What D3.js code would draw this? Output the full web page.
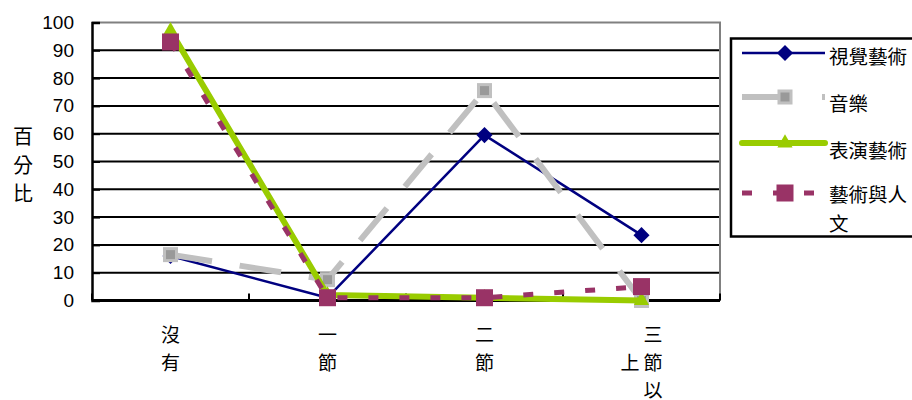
<!DOCTYPE html>
<html>
<head>
<meta charset="utf-8">
<script src="https://cdn.jsdelivr.net/npm/d3@7"></script>
<style>
  body { margin: 0; background: #fff; }
  svg { display: block; }
</style>
</head>
<body>
<svg id="chart" width="912" height="400"></svg>
<script>
// categories (x axis) and series values
const categories = ["沒有", "一節", "二節", "三節以上"];
const visualArts = [16, 1, 59.5, 23.5];
const music = [16.5, 7.5, 75.5, 0];
const performingArts = [97, 2, 1, 0];
const artsHumanities = [93, 1, 1, 5];
const yTicks = [0, 10, 20, 30, 40, 50, 60, 70, 80, 90, 100];
const seriesNames = ["視覺藝術", "音樂", "表演藝術", "藝術與人文"];

const svg = d3.select("#chart");
const CJK = "'Noto Sans CJK TC', 'Noto Sans CJK SC', sans-serif";

const plot = { left: 92, right: 720, top: 22.5, bottom: 300.5 };

let xScale = d3
  .scaleBand()
  .domain(categories)
  .range([plot.left, plot.right]);
let xc = (c) => xScale(c) + xScale.bandwidth() / 2;

let yScale = d3.scaleLinear().domain([0, 100]).range([plot.bottom, plot.top]);

// grid lines
svg
  .append("g")
  .selectAll("line")
  .data(yTicks.filter((t) => t > 0 && t < 100))
  .enter()
  .append("line")
  .attr("x1", plot.left)
  .attr("x2", plot.right)
  .attr("y1", (d) => yScale(d))
  .attr("y2", (d) => yScale(d))
  .attr("stroke", "#000")
  .attr("stroke-width", 2);

// top / right frame (grey)
svg
  .append("path")
  .attr("d", `M${plot.left},${yScale(100)}H${plot.right}V${plot.bottom}`)
  .attr("fill", "none")
  .attr("stroke", "#808080")
  .attr("stroke-width", 2);

// y axis
let yAxis = d3.axisLeft(yScale).tickValues(yTicks).tickSize(-8).tickPadding(18);
let yG = svg
  .append("g")
  .attr("transform", "translate(" + plot.left + ",0)")
  .call(yAxis);
yG.select(".domain").attr("stroke", "#000").attr("stroke-width", 2.5);
yG.selectAll(".tick line").attr("stroke", "#000").attr("stroke-width", 2);
yG.selectAll(".tick text")
  .attr("font-family", "'Liberation Sans', Arial, sans-serif")
  .attr("font-size", 19)
  .attr("fill", "#000");

// x axis: ticks at category boundaries, pointing inward
let boundaries = categories.map((c) => xScale(c)).concat([plot.right]);
svg
  .append("line")
  .attr("x1", plot.left)
  .attr("x2", plot.right)
  .attr("y1", plot.bottom)
  .attr("y2", plot.bottom)
  .attr("stroke", "#000")
  .attr("stroke-width", 3);
svg
  .append("g")
  .selectAll("line")
  .data(boundaries)
  .enter()
  .append("line")
  .attr("x1", (d) => d)
  .attr("x2", (d) => d)
  .attr("y1", plot.bottom)
  .attr("y2", plot.bottom - 7)
  .attr("stroke", "#000")
  .attr("stroke-width", 2);

// vertical category labels (max 3 chars per column, columns right to left)
const perCol = 3,
  colGap = 23,
  lineH = 27.5,
  labelTop = 333;
categories.forEach(function (c) {
  let chars = Array.from(c);
  let cols = [];
  for (let i = 0; i < chars.length; i += perCol) cols.push(chars.slice(i, i + perCol));
  let maxRows = d3.max(cols, (k) => k.length);
  let t = svg
    .append("text")
    .attr("font-family", CJK)
    .attr("font-size", 19)
    .attr("fill", "#000")
    .attr("text-anchor", "middle")
    .attr("dominant-baseline", "central");
  cols.forEach(function (col, ci) {
    let x = xc(c) + ((cols.length - 1) / 2) * colGap - ci * colGap;
    let off = ((maxRows - col.length) / 2) * lineH;
    col.forEach(function (ch, ri) {
      t.append("tspan")
        .attr("x", x)
        .attr("y", labelTop + off + ri * lineH)
        .text(ch);
    });
  });
});

// y title, vertical
let yt = svg
  .append("text")
  .attr("font-family", CJK)
  .attr("font-size", 20)
  .attr("fill", "#000")
  .attr("text-anchor", "middle")
  .attr("dominant-baseline", "central");
Array.from("百分比").forEach(function (ch, i) {
  yt.append("tspan").attr("x", 23).attr("y", 135 + i * 28.5).text(ch);
});

// series styles
const styles = [
  { data: visualArts, stroke: "#000080", width: 2.5, dash: null, marker: "diamond" },
  { data: music, stroke: "#c0c0c0", width: 6, dash: "42,28", marker: "greySquare" },
  { data: performingArts, stroke: "#99cc00", width: 6, dash: null, marker: "triangle" },
  { data: artsHumanities, stroke: "#993366", width: 5, dash: "10,21", marker: "square" },
];

function drawMarker(g, type, x, y) {
  if (type == "diamond") {
    g.append("path")
      .attr("d", d3.symbol(d3.symbolSquare, 130)())
      .attr("transform", `translate(${x},${y}) rotate(45)`)
      .attr("fill", "#000080");
  } else if (type == "greySquare") {
    g.append("rect")
      .attr("x", x - 6)
      .attr("y", y - 6)
      .attr("width", 12)
      .attr("height", 12)
      .attr("fill", "#999999")
      .attr("stroke", "#c0c0c0")
      .attr("stroke-width", 3);
  } else if (type == "triangle") {
    g.append("path")
      .attr("d", d3.symbol(d3.symbolTriangle, 100)())
      .attr("transform", `translate(${x},${y})`)
      .attr("fill", "#99cc00");
  } else {
    g.append("rect")
      .attr("x", x - 8.5)
      .attr("y", y - 8.5)
      .attr("width", 17)
      .attr("height", 17)
      .attr("fill", "#993366");
  }
}

let line = d3
  .line()
  .x((d, i) => xc(categories[i]))
  .y((d) => yScale(d));

styles.forEach(function (s) {
  let g = svg.append("g");
  g.append("path")
    .attr("d", line(s.data))
    .attr("fill", "none")
    .attr("stroke", s.stroke)
    .attr("stroke-width", s.width)
    .attr("stroke-dasharray", s.dash)
    .attr("stroke-linejoin", "round");
  s.data.forEach((d, i) => drawMarker(g, s.marker, xc(categories[i]), yScale(d)));
});

// legend
let legend = svg.append("g");
legend
  .append("rect")
  .attr("x", 731)
  .attr("y", 38.5)
  .attr("width", 200)
  .attr("height", 198)
  .attr("fill", "#fff")
  .attr("stroke", "#000")
  .attr("stroke-width", 2.5);

const legendY = [53, 97, 143, 193];
const legendTextY = [55, 102, 149, 193];
styles.forEach(function (s, i) {
  let y = legendY[i];
  legend
    .append("line")
    .attr("x1", 742)
    .attr("x2", 825)
    .attr("y1", y)
    .attr("y2", y)
    .attr("stroke", s.stroke)
    .attr("stroke-width", s.width)
    .attr("stroke-linecap", s.marker == "triangle" ? "round" : "butt")
    .attr("stroke-dasharray", s.marker == "greySquare" ? "48,32" : s.dash ? "10,21" : null);
  drawMarker(legend, s.marker, 785, y);
  let name = seriesNames[i];
  let t = legend
    .append("text")
    .attr("font-family", CJK)
    .attr("font-size", 19.5)
    .attr("fill", "#000")
    .attr("dominant-baseline", "central");
  if (name.length > 4) {
    t.append("tspan").attr("x", 829).attr("y", legendTextY[i]).text(name.slice(0, 4));
    t.append("tspan").attr("x", 829).attr("y", legendTextY[i] + 28.5).text(name.slice(4));
  } else {
    t.append("tspan").attr("x", 829).attr("y", legendTextY[i]).text(name);
  }
});
</script>
</body>
</html>
